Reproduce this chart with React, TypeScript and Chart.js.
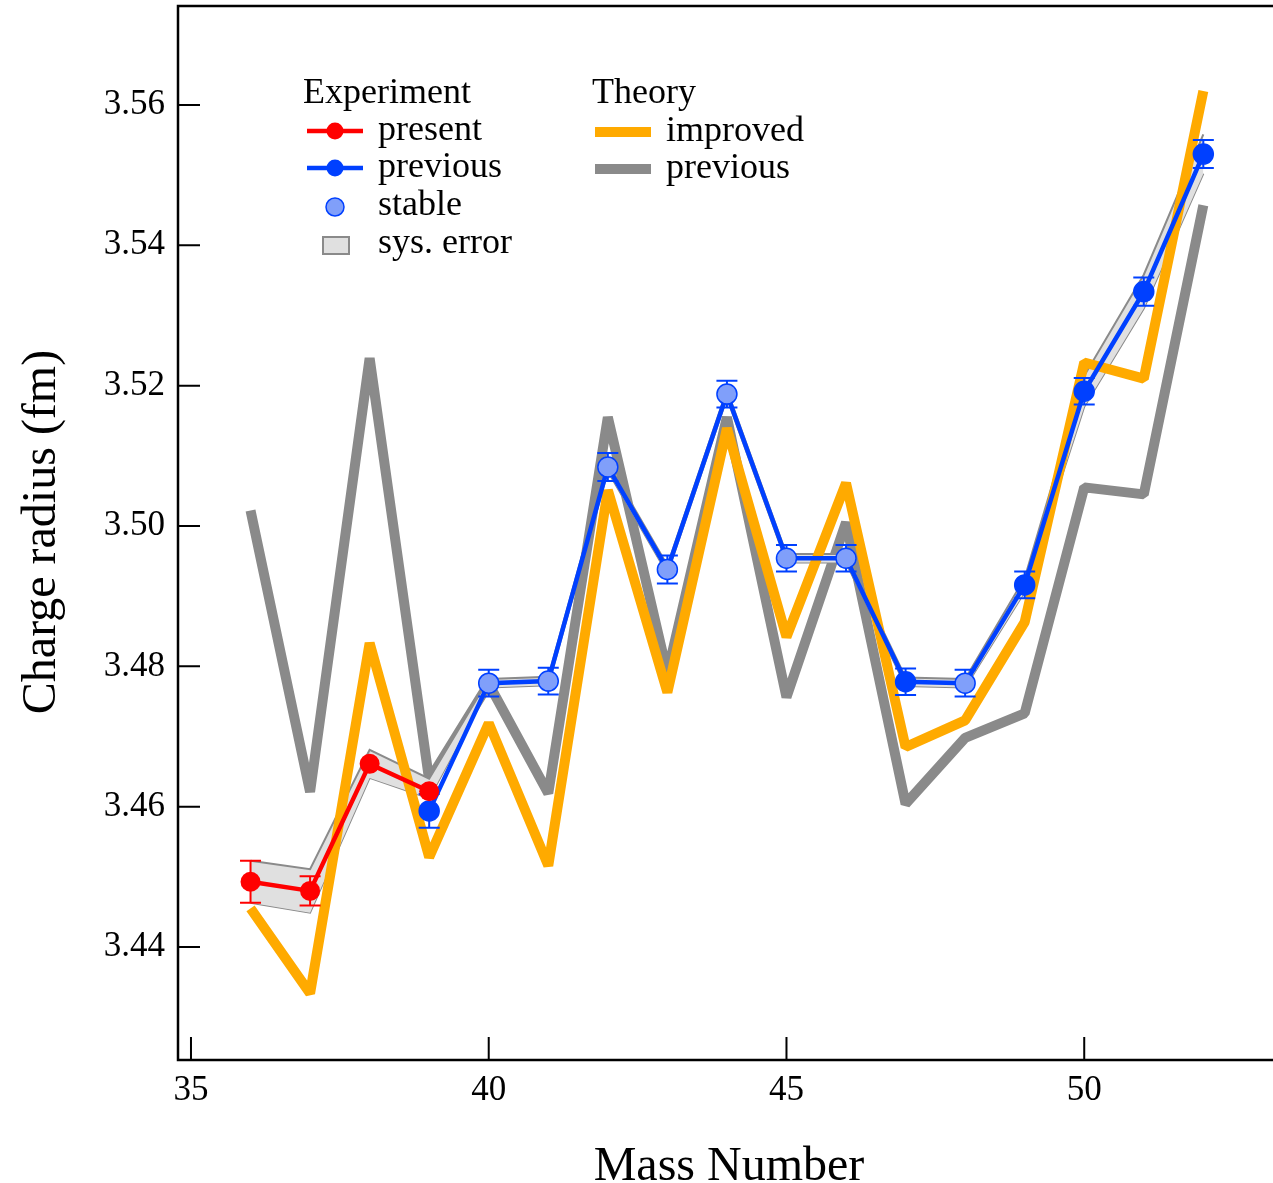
import React, { useEffect, useRef } from 'react';
import { Chart, registerables } from 'chart.js';

Chart.register(...registerables);

// ---------------- data ----------------
const massNumbers = [36, 37, 38, 39, 40, 41, 42, 43, 44, 45, 46, 47, 48, 49, 50, 51, 52];

const presentMass = [36, 37, 38, 39];
const presentRadius = [3.4493, 3.448, 3.4661, 3.4622];
const presentErr = [0.003, 0.0021, 0, 0];

const previousMass = [39, 40, 41, 42, 43, 44, 45, 46, 47, 48, 49, 50, 51, 52];
const previousRadius = [3.4594, 3.4776, 3.4779, 3.5084, 3.4938, 3.5188, 3.4954, 3.4954, 3.4778, 3.4776, 3.4916, 3.5192, 3.5334, 3.553];
const previousErr = [0.0024, 0.0019, 0.0019, 0.002, 0.002, 0.0019, 0.0019, 0.0019, 0.0019, 0.0019, 0.0019, 0.0019, 0.002, 0.002];

const stableMass = [40, 41, 42, 43, 44, 45, 46, 48];

const sysCenter = [3.4493, 3.448, 3.4661, 3.4626, 3.4776, 3.4779, 3.5084, 3.4938, 3.5188, 3.4954, 3.4954, 3.4778, 3.4776, 3.4916, 3.5192, 3.5334, 3.553];
const sysErr = [0.003, 0.0031, 0.002, 0.0014, 0.0006, 0.0006, 0.0006, 0.0006, 0.0006, 0.0006, 0.0006, 0.0006, 0.0006, 0.001, 0.0022, 0.0024, 0.0028];

const theoryImproved = [3.4455, 3.4334, 3.4833, 3.4528, 3.4719, 3.4516, 3.5051, 3.4763, 3.5139, 3.4842, 3.5061, 3.4685, 3.4723, 3.4863, 3.5233, 3.521, 3.562];
const theoryPrevious = [3.5022, 3.4621, 3.5239, 3.4638, 3.4775, 3.4619, 3.5155, 3.479, 3.5155, 3.4756, 3.5005, 3.4604, 3.4698, 3.4733, 3.5055, 3.5045, 3.5457];

const xTicks = [35, 40, 45, 50];
const yTicks = [3.44, 3.46, 3.48, 3.5, 3.52, 3.54, 3.56];

const xTitle = 'Mass Number';
const yTitle = 'Charge radius (fm)';

// ---------------- styles ----------------
const SERIF = '"Liberation Serif", "Times New Roman", Times, serif';
const RED = '#ff0000';
const BLUE = '#0040ff';
const LIGHT_BLUE = '#809ffa';
const ORANGE = '#ffaa00';
const GRAY = '#8a8a8a';
const BAND_FILL = '#e0e0e0';
const BAND_EDGE = '#8a8a8a';

const W = 1273;
const H = 1183;

const pts = (xs: number[], ys: number[]) => xs.map((x, i) => ({ x, y: ys[i] }));

const errorBarPlugin = {
  id: 'errorBars',
  beforeDatasetDraw(chart: any, args: any) {
    const ds = chart.data.datasets[args.index];
    if (!ds.errors) return;
    const ctx = chart.ctx;
    const yScale = chart.scales.y;
    const xScale = chart.scales.x;
    ctx.save();
    ctx.strokeStyle = ds.borderColor;
    ctx.lineWidth = 2;
    ds.data.forEach((p: any, i: number) => {
      const e = ds.errors[i];
      if (!e) return;
      const px = xScale.getPixelForValue(p.x);
      const top = yScale.getPixelForValue(p.y + e);
      const bot = yScale.getPixelForValue(p.y - e);
      ctx.beginPath();
      ctx.moveTo(px, top);
      ctx.lineTo(px, bot);
      ctx.moveTo(px - 10.5, top);
      ctx.lineTo(px + 10.5, top);
      ctx.moveTo(px - 10.5, bot);
      ctx.lineTo(px + 10.5, bot);
      ctx.stroke();
    });
    ctx.restore();
  },
};

const framePlugin = {
  id: 'frameAndLegend',
  afterDraw(chart: any) {
    const ctx = chart.ctx;
    const { left, right, top, bottom } = chart.chartArea;
    const xs = chart.scales.x;
    const ys = chart.scales.y;
    ctx.save();
    // frame
    ctx.strokeStyle = '#000';
    ctx.lineWidth = 2.5;
    ctx.beginPath();
    ctx.moveTo(right + 5, top);
    ctx.lineTo(left, top);
    ctx.lineTo(left, bottom);
    ctx.lineTo(right + 5, bottom);
    ctx.stroke();
    // inward ticks
    ctx.lineWidth = 2;
    ctx.beginPath();
    yTicks.forEach((v) => {
      const py = ys.getPixelForValue(v);
      ctx.moveTo(left, py);
      ctx.lineTo(left + 22, py);
    });
    xTicks.forEach((v) => {
      const px = xs.getPixelForValue(v);
      ctx.moveTo(px, bottom);
      ctx.lineTo(px, bottom - 23);
    });
    ctx.stroke();

    // axis titles
    ctx.fillStyle = '#000';
    ctx.font = `48px ${SERIF}`;
    ctx.textAlign = 'center';
    ctx.textBaseline = 'alphabetic';
    ctx.fillText(xTitle, 729, 1180);
    ctx.save();
    ctx.translate(55, 532);
    ctx.rotate(-Math.PI / 2);
    ctx.fillText(yTitle, 0, 0);
    ctx.restore();

    // legend
    ctx.font = `36px ${SERIF}`;
    ctx.textAlign = 'left';
    ctx.fillText('Experiment', 303, 103);
    ctx.fillText('Theory', 592, 103);

    // present
    ctx.lineCap = 'butt';
    ctx.strokeStyle = RED;
    ctx.lineWidth = 4.5;
    ctx.beginPath();
    ctx.moveTo(307, 131);
    ctx.lineTo(363, 131);
    ctx.stroke();
    ctx.fillStyle = RED;
    ctx.beginPath();
    ctx.arc(335, 131, 8.5, 0, Math.PI * 2);
    ctx.fill();
    // previous exp
    ctx.strokeStyle = BLUE;
    ctx.beginPath();
    ctx.moveTo(307, 168);
    ctx.lineTo(363, 168);
    ctx.stroke();
    ctx.fillStyle = BLUE;
    ctx.beginPath();
    ctx.arc(335, 168, 8.5, 0, Math.PI * 2);
    ctx.fill();
    // stable
    ctx.fillStyle = LIGHT_BLUE;
    ctx.strokeStyle = BLUE;
    ctx.lineWidth = 1.5;
    ctx.beginPath();
    ctx.arc(335, 207, 9, 0, Math.PI * 2);
    ctx.fill();
    ctx.stroke();
    // sys error
    ctx.fillStyle = BAND_FILL;
    ctx.strokeStyle = BAND_EDGE;
    ctx.lineWidth = 2;
    ctx.fillRect(323, 237, 26, 17);
    ctx.strokeRect(323, 237, 26, 17);
    // theory improved
    ctx.strokeStyle = ORANGE;
    ctx.lineWidth = 10;
    ctx.beginPath();
    ctx.moveTo(595, 132);
    ctx.lineTo(651, 132);
    ctx.stroke();
    // theory previous
    ctx.strokeStyle = GRAY;
    ctx.beginPath();
    ctx.moveTo(595, 169);
    ctx.lineTo(651, 169);
    ctx.stroke();

    ctx.fillStyle = '#000';
    ctx.fillText('present', 378, 140);
    ctx.fillText('previous', 378, 177);
    ctx.fillText('stable', 378, 215);
    ctx.fillText('sys. error', 378, 253);
    ctx.fillText('improved', 666, 141);
    ctx.fillText('previous', 666, 178);
    ctx.restore();
  },
};

export default function App() {
  const canvasRef = useRef<HTMLCanvasElement | null>(null);

  useEffect(() => {
    const canvas = canvasRef.current;
    if (!canvas) return;

    const sysUpper = sysCenter.map((c, i) => c + sysErr[i]);
    const sysLower = sysCenter.map((c, i) => c - sysErr[i]);

    const chart = new Chart(canvas, {
      type: 'line',
      data: {
        datasets: [
          {
            label: 'present',
            data: pts(presentMass, presentRadius),
            errors: presentErr,
            borderColor: RED,
            backgroundColor: RED,
            borderWidth: 4.5,
            pointRadius: 10,
            pointBorderWidth: 0,
            pointBackgroundColor: RED,
            order: 0,
          } as any,
          {
            label: 'previous',
            data: pts(previousMass, previousRadius),
            errors: previousErr,
            borderColor: BLUE,
            backgroundColor: BLUE,
            borderWidth: 4.5,
            pointRadius: 10,
            pointBorderWidth: 1.5,
            pointBorderColor: BLUE,
            pointBackgroundColor: (c: any) => {
              const raw = c.raw;
              return raw && stableMass.includes(raw.x) ? LIGHT_BLUE : BLUE;
            },
            order: 1,
          } as any,
          {
            label: 'improved',
            data: pts(massNumbers, theoryImproved),
            borderColor: ORANGE,
            borderWidth: 10,
            borderJoinStyle: 'bevel',
            borderCapStyle: 'butt',
            pointRadius: 0,
            order: 2,
          } as any,
          {
            label: 'sys upper',
            data: pts(massNumbers, sysUpper),
            borderColor: BAND_EDGE,
            backgroundColor: BAND_FILL,
            borderWidth: 2,
            pointRadius: 0,
            fill: '+1',
            order: 3,
          } as any,
          {
            label: 'sys lower',
            data: pts(massNumbers, sysLower),
            borderColor: BAND_EDGE,
            borderWidth: 2,
            pointRadius: 0,
            fill: false,
            order: 4,
          } as any,
          {
            label: 'theory previous',
            data: pts(massNumbers, theoryPrevious),
            borderColor: GRAY,
            borderWidth: 10,
            borderJoinStyle: 'bevel',
            borderCapStyle: 'butt',
            pointRadius: 0,
            order: 5,
          } as any,
        ],
      },
      options: {
        responsive: false,
        animation: false,
        devicePixelRatio: 1,
        layout: { autoPadding: false, padding: { top: 6, right: 0, bottom: 0, left: 0 } },
        elements: { line: { tension: 0 } },
        plugins: {
          legend: { display: false },
          tooltip: { enabled: false },
        },
        scales: {
          x: {
            type: 'linear',
            min: 34.782,
            max: 53.17,
            grid: { display: false, drawTicks: false },
            border: { display: false },
            ticks: {
              stepSize: 5,
              includeBounds: false,
              padding: 10,
              maxRotation: 0,
              autoSkip: false,
              color: '#000',
              font: { family: SERIF, size: 35 },
              callback: (v: any) => String(v),
            },
            afterBuildTicks: (s: any) => {
              s.ticks = xTicks.map((v) => ({ value: v }));
            },
            afterFit: (s: any) => {
              s.height = H - 1060;
              s.paddingLeft = 0;
              s.paddingRight = 0;
            },
          },
          y: {
            type: 'linear',
            min: 3.4239,
            max: 3.5741,
            grid: { display: false, drawTicks: false },
            border: { display: false },
            ticks: {
              stepSize: 0.02,
              includeBounds: false,
              padding: 13,
              color: '#000',
              font: { family: SERIF, size: 35 },
              callback: (v: any) => Number(v).toFixed(2),
            },
            afterBuildTicks: (s: any) => {
              s.ticks = yTicks.map((v) => ({ value: v }));
            },
            afterFit: (s: any) => {
              s.width = 178;
              s.paddingTop = 0;
              s.paddingBottom = 0;
            },
          },
        },
      } as any,
      plugins: [errorBarPlugin, framePlugin],
    });

    return () => chart.destroy();
  }, []);

  return (
    <div style={{ position: 'absolute', left: 0, top: 0, width: W, height: H, background: '#fff' }}>
      <canvas ref={canvasRef} width={W} height={H} style={{ display: 'block', width: W, height: H }} />
    </div>
  );
}
